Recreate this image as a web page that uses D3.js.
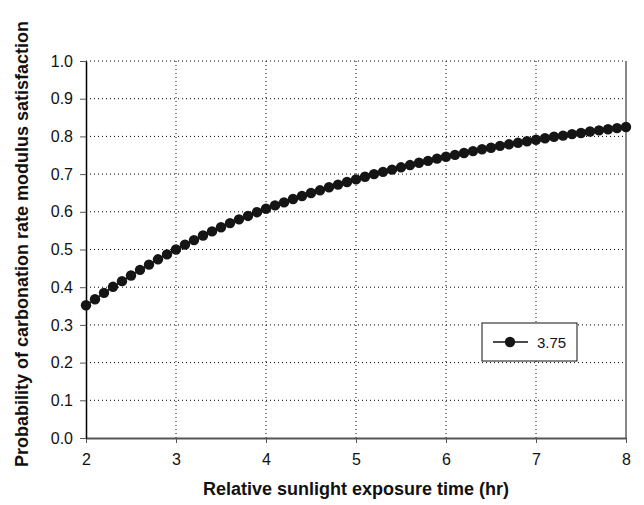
<!DOCTYPE html>
<html>
<head>
<meta charset="utf-8">
<script src="https://cdn.jsdelivr.net/npm/d3@7"></script>
<style>
  body { margin: 0; background: #fff; }
  svg { display: block; font-family: "Liberation Sans", Arial, sans-serif; }
</style>
</head>
<body>
<svg id="chart" width="644" height="505"></svg>
<script>
// Exposure time (hr) and probability of satisfying the carbonation rate modulus
const exposureHours = [
  2.0, 2.1, 2.2, 2.3, 2.4, 2.5, 2.6, 2.7, 2.8, 2.9,
  3.0, 3.1, 3.2, 3.3, 3.4, 3.5, 3.6, 3.7, 3.8, 3.9,
  4.0, 4.1, 4.2, 4.3, 4.4, 4.5, 4.6, 4.7, 4.8, 4.9,
  5.0, 5.1, 5.2, 5.3, 5.4, 5.5, 5.6, 5.7, 5.8, 5.9,
  6.0, 6.1, 6.2, 6.3, 6.4, 6.5, 6.6, 6.7, 6.8, 6.9,
  7.0, 7.1, 7.2, 7.3, 7.4, 7.5, 7.6, 7.7, 7.8, 7.9,
  8.0
];
const probability375 = [
  0.352, 0.368, 0.385, 0.401, 0.416, 0.431, 0.446, 0.460, 0.474, 0.487,
  0.500, 0.513, 0.525, 0.537, 0.548, 0.559, 0.570, 0.580, 0.589, 0.599,
  0.608, 0.617, 0.625, 0.634, 0.642, 0.650, 0.657, 0.665, 0.672, 0.679,
  0.686, 0.693, 0.700, 0.706, 0.712, 0.718, 0.724, 0.730, 0.735, 0.741,
  0.746, 0.751, 0.756, 0.761, 0.766, 0.770, 0.775, 0.779, 0.783, 0.787,
  0.791, 0.795, 0.799, 0.802, 0.806, 0.809, 0.813, 0.816, 0.819, 0.822,
  0.825
];
const seriesName = "3.75";
const xTicks = [2, 3, 4, 5, 6, 7, 8];
const yTicks = [0, 0.1, 0.2, 0.3, 0.4, 0.5, 0.6, 0.7, 0.8, 0.9, 1.0];
const xTitle = "Relative sunlight exposure time (hr)";
const yTitle = "Probability of carbonation rate modulus satisfaction";

const svg = d3.select("#chart");
const plot = { left: 86, right: 626, top: 61, bottom: 438 };

const x = d3.scaleLinear().domain([2, 8]).range([plot.left, plot.right]);
const y = d3.scaleLinear().domain([0, 1]).range([plot.bottom, plot.top]);

// dotted grid
const grid = svg.append("g");
grid.selectAll("line.h").data(yTicks.filter(v => v > 0)).enter().append("line")
  .attr("x1", plot.left).attr("x2", plot.right)
  .attr("y1", d => y(d)).attr("y2", d => y(d))
  .attr("stroke", "#000").attr("stroke-width", 1).attr("stroke-dasharray", "1,3");
grid.selectAll("line.v").data(xTicks.filter(v => v > 2 && v < 8)).enter().append("line")
  .attr("y1", plot.top).attr("y2", plot.bottom)
  .attr("x1", d => x(d)).attr("x2", d => x(d))
  .attr("stroke", "#000").attr("stroke-width", 1).attr("stroke-dasharray", "1,3");

// right border
svg.append("line")
  .attr("x1", plot.right).attr("x2", plot.right)
  .attr("y1", plot.top).attr("y2", plot.bottom)
  .attr("stroke", "#888").attr("stroke-width", 2);

// axes
const xAxis = d3.axisBottom(x).tickValues(xTicks).tickFormat(d3.format("d"))
  .tickSize(5).tickSizeOuter(0).tickPadding(11);
const yAxis = d3.axisLeft(y).tickValues(yTicks).tickFormat(d3.format(".1f"))
  .tickSize(6).tickSizeOuter(0).tickPadding(7);

const gx = svg.append("g").attr("transform", `translate(0,${plot.bottom})`).call(xAxis);
gx.select(".domain").attr("stroke", "#555").attr("stroke-width", 2);
gx.selectAll(".tick line").attr("stroke", "#555");
gx.selectAll(".tick text").attr("font-size", 16).attr("fill", "#111")
  .attr("font-family", "Liberation Sans, Arial, sans-serif");

const gy = svg.append("g").attr("transform", `translate(${plot.left},0)`).call(yAxis);
gy.select(".domain").attr("stroke", "#000").attr("stroke-width", 1.5);
gy.selectAll(".tick line").attr("stroke", "#555");
gy.selectAll(".tick text").attr("font-size", 16).attr("fill", "#111")
  .attr("font-family", "Liberation Sans, Arial, sans-serif");

// series
const pts = exposureHours.map((h, i) => [h, probability375[i]]);
svg.append("path").datum(pts)
  .attr("fill", "none").attr("stroke", "#111").attr("stroke-width", 1.5)
  .attr("d", d3.line().x(d => x(d[0])).y(d => y(d[1])));
svg.append("g").selectAll("circle").data(pts).enter().append("circle")
  .attr("cx", d => x(d[0])).attr("cy", d => y(d[1]))
  .attr("r", 5.2).attr("fill", "#151515");

// legend
const lg = svg.append("g").attr("transform", "translate(482,323)");
lg.append("rect").attr("width", 95).attr("height", 38)
  .attr("fill", "#fff").attr("stroke", "#111").attr("stroke-width", 1);
lg.append("line").attr("x1", 11).attr("x2", 46).attr("y1", 19).attr("y2", 19)
  .attr("stroke", "#111").attr("stroke-width", 1.5);
lg.append("circle").attr("cx", 28).attr("cy", 19).attr("r", 5.2).attr("fill", "#151515");
lg.append("text").attr("x", 55).attr("y", 24.5).attr("font-size", 15).attr("fill", "#111")
  .text(seriesName);

// axis titles
svg.append("text").attr("x", (plot.left + plot.right) / 2).attr("y", 495)
  .attr("text-anchor", "middle").attr("font-size", 18).attr("font-weight", "bold")
  .attr("fill", "#111").text(xTitle);
svg.append("text")
  .attr("transform", `translate(28,244) rotate(-90)`)
  .attr("text-anchor", "middle").attr("font-size", 18).attr("font-weight", "bold")
  .attr("fill", "#111").text(yTitle);
</script>
</body>
</html>
